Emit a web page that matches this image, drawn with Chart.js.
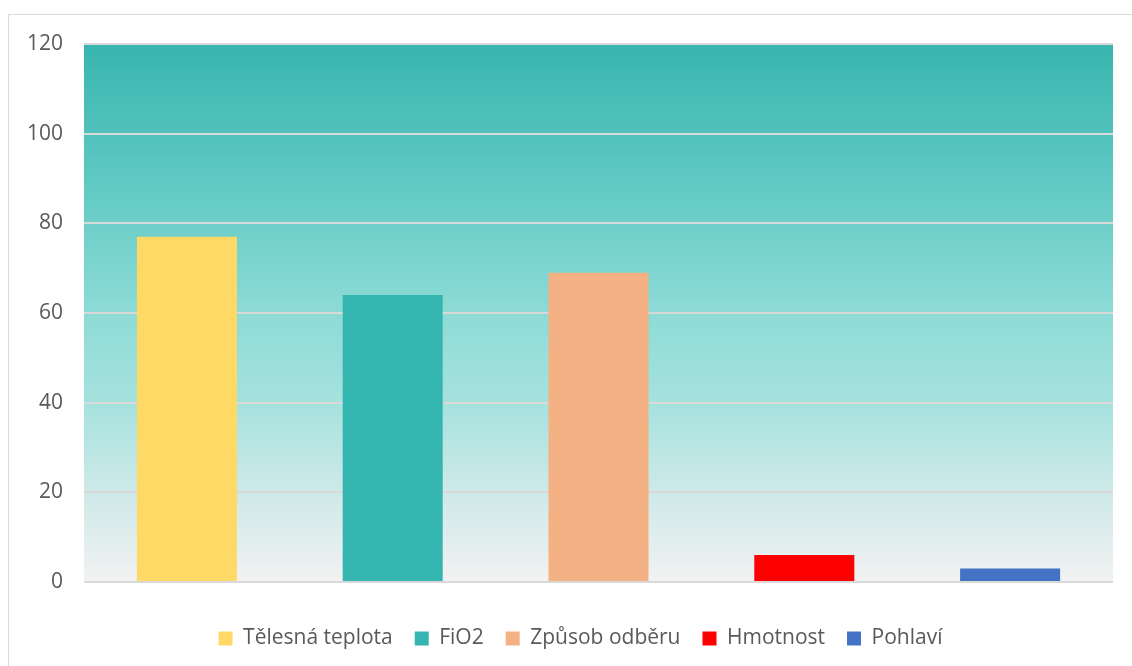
<!DOCTYPE html>
<html>
<head>
<meta charset="utf-8">
<script src="https://cdn.jsdelivr.net/npm/chart.js@4.4.1/dist/chart.umd.min.js"></script>
<style>
  html, body { margin: 0; padding: 0; background: #ffffff; }
  #wrap { position: relative; width: 1132px; height: 666px; overflow: hidden; }
  #frame { position: absolute; left: 8px; top: 14px; width: 1140px; height: 700px; border: 1px solid #d9d9d9; box-sizing: border-box; }
  #c { position: absolute; left: 0; top: 0; }
</style>
</head>
<body>
<div id="wrap">
  <div id="frame"></div>
  <canvas id="c" width="1132" height="666"></canvas>
</div>
<script>
const categories = ["Tělesná teplota", "FiO2", "Způsob odběru", "Hmotnost", "Pohlaví"];
const values = [77, 64, 69, 6, 3];
const colors = ["#FFD966", "#35B5B0", "#F4B183", "#FF0000", "#4472C4"];
const yTicks = [0, 20, 40, 60, 80, 100, 120];

const datasets = categories.map((name, i) => ({
  label: name,
  data: categories.map((_, j) => (j === i ? values[i] : null)),
  backgroundColor: colors[i],
  borderWidth: 0,
  categoryPercentage: 1,
  barPercentage: 0.486,
  grouped: false
}));

const bgPlugin = {
  id: 'plotBg',
  beforeUpdate(chart) {
    const lg = chart.legend;
    if (lg && !lg._patched) {
      const orig = lg.fit.bind(lg);
      lg.fit = function () { orig(); this.height = 44; };
      lg._patched = true;
    }
  },
  afterLayout(chart) {
    const lg = chart.legend;
    if (lg) { lg.left += 17; lg.right += 17; }
  },
  beforeDraw(chart) {
    const { ctx, chartArea: a } = chart;
    const g = ctx.createLinearGradient(0, a.top, 0, a.bottom);
    g.addColorStop(0, '#38b6af');
    g.addColorStop(0.25, '#5ec8c2');
    g.addColorStop(0.5, '#8ddbd6');
    g.addColorStop(0.67, '#a6e2de');
    g.addColorStop(0.83, '#cde9e8');
    g.addColorStop(1, '#f2f2f2');
    ctx.save();
    ctx.fillStyle = g;
    ctx.fillRect(a.left, a.top, a.right - a.left, a.bottom - a.top);
    ctx.restore();
  }
};

new Chart(document.getElementById('c'), {
  type: 'bar',
  data: { labels: categories, datasets },
  plugins: [bgPlugin],
  options: {
    responsive: false,
    animation: false,
    layout: { padding: { left: 14, right: 19, top: 44, bottom: 16 } },
    scales: {
      x: {
        display: true,
        ticks: { display: false },
        grid: { display: false },
        border: { display: false },
        afterFit(scale) { scale.height = 24; }
      },
      y: {
        min: 0, max: 120,
        afterFit(scale) { scale.width = 70; },
        afterBuildTicks(scale) { scale.ticks = yTicks.map(v => ({ value: v })); },
        ticks: {
          color: '#595959',
          font: { family: 'Open Sans', size: 21 },
          padding: 21
        },
        grid: { color: '#d9d9d9', lineWidth: 2, drawTicks: false },
        border: { display: false }
      }
    },
    plugins: {
      legend: {
        position: 'bottom',
        labels: {
          color: '#595959',
          font: { family: 'Open Sans', size: 21 },
          boxWidth: 14,
          boxHeight: 14,
          padding: 22
        }
      },
      tooltip: { enabled: false }
    }
  }
});
</script>
</body>
</html>
